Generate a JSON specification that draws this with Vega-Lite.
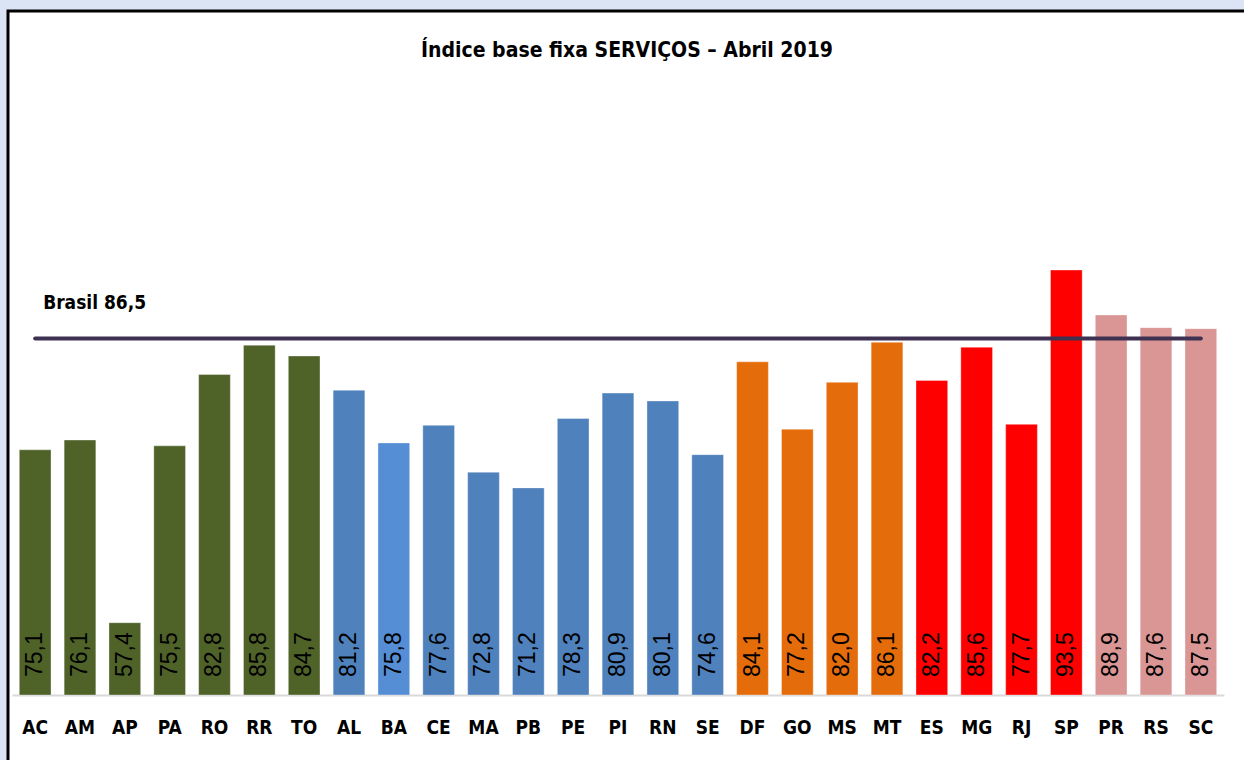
{
  "$schema": "https://vega.github.io/schema/vega-lite/v6.json",
  "width": 1236,
  "height": 749,
  "autosize": {"type": "none"},
  "padding": {"left": 8, "top": 11, "right": 0, "bottom": 0},
  "background": "#dbe4f5",
  "config": {
    "view": {"fill": "white", "stroke": "black", "strokeWidth": 3, "strokeDash": [1236, 1985, 749, 1]},
    "locale": {"number": {"decimal": ",", "thousands": ".", "grouping": [3], "currency": ["R$", ""]}}
  },
  "title": {
    "text": "Índice base fixa SERVIÇOS – Abril 2019",
    "font": "DejaVu Sans Condensed, Liberation Sans, sans-serif",
    "fontSize": 21,
    "fontWeight": "bold",
    "color": "black",
    "anchor": "middle",
    "frame": "group",
    "baseline": "alphabetic",
    "offset": 0,
    "dx": 1,
    "dy": 67
  },
  "datasets": {
    "brasil": [
      {"uf": "AC", "valor": 86.5},
      {"uf": "SC", "valor": 86.5}
    ]
  },
  "data": {
    "values": [
      {"uf": "AC", "valor": 75.1},
      {"uf": "AM", "valor": 76.1},
      {"uf": "AP", "valor": 57.4},
      {"uf": "PA", "valor": 75.5},
      {"uf": "RO", "valor": 82.8},
      {"uf": "RR", "valor": 85.8},
      {"uf": "TO", "valor": 84.7},
      {"uf": "AL", "valor": 81.2},
      {"uf": "BA", "valor": 75.8},
      {"uf": "CE", "valor": 77.6},
      {"uf": "MA", "valor": 72.8},
      {"uf": "PB", "valor": 71.2},
      {"uf": "PE", "valor": 78.3},
      {"uf": "PI", "valor": 80.9},
      {"uf": "RN", "valor": 80.1},
      {"uf": "SE", "valor": 74.6},
      {"uf": "DF", "valor": 84.1},
      {"uf": "GO", "valor": 77.2},
      {"uf": "MS", "valor": 82.0},
      {"uf": "MT", "valor": 86.1},
      {"uf": "ES", "valor": 82.2},
      {"uf": "MG", "valor": 85.6},
      {"uf": "RJ", "valor": 77.7},
      {"uf": "SP", "valor": 93.5},
      {"uf": "PR", "valor": 88.9},
      {"uf": "RS", "valor": 87.6},
      {"uf": "SC", "valor": 87.5}
    ]
  },
  "encoding": {
    "x": {
      "field": "uf",
      "type": "nominal",
      "sort": null,
      "scale": {"range": [4, 1216], "paddingInner": 0.293, "paddingOuter": 0.163},
      "axis": {
        "title": null,
        "orient": "bottom",
        "offset": -65,
        "ticks": false,
        "labelAngle": 0,
        "labelPadding": 32,
        "labelBaseline": "middle",
        "labelFont": "DejaVu Sans Condensed, Liberation Sans, sans-serif",
        "labelFontSize": 19,
        "labelFontWeight": "bold",
        "labelColor": "black",
        "domainColor": "#d9d9d9",
        "domainWidth": 2
      }
    }
  },
  "layer": [
    {
      "mark": {"type": "bar", "stroke": "white", "strokeOpacity": 0.35, "strokeWidth": 1},
      "encoding": {
        "y": {
          "field": "valor",
          "type": "quantitative",
          "scale": {"domain": [50, 100], "range": [684, 195.5], "zero": false, "nice": false},
          "axis": null
        },
        "y2": {"datum": 50},
        "color": {
          "field": "uf",
          "type": "nominal",
          "legend": null,
          "scale": {
            "domain": ["AC","AM","AP","PA","RO","RR","TO","AL","BA","CE","MA","PB","PE","PI","RN","SE","DF","GO","MS","MT","ES","MG","RJ","SP","PR","RS","SC"],
            "range": ["#4f6228","#4f6228","#4f6228","#4f6228","#4f6228","#4f6228","#4f6228","#4f81bd","#558ed5","#4f81bd","#4f81bd","#4f81bd","#4f81bd","#4f81bd","#4f81bd","#4f81bd","#e46c0a","#e46c0a","#e46c0a","#e46c0a","#ff0000","#ff0000","#ff0000","#ff0000","#d99694","#d99694","#d99694"]
          }
        }
      }
    },
    {
      "mark": {"type": "text", "angle": 270, "align": "left", "baseline": "middle", "dx": 18, "font": "Liberation Sans", "fontSize": 23, "color": "black"},
      "encoding": {
        "y": {"datum": 50, "type": "quantitative"},
        "text": {"field": "valor", "type": "quantitative", "format": ".1f"}
      }
    },
    {
      "data": {"name": "brasil"},
      "mark": {"type": "line", "color": "#3f3151", "strokeWidth": 4, "strokeCap": "round"},
      "encoding": {
        "y": {"field": "valor", "type": "quantitative"}
      }
    },
    {
      "data": {"name": "brasil"},
      "transform": [{"filter": "datum.uf == 'AC'"}],
      "mark": {"type": "text", "align": "left", "baseline": "middle", "dx": 8, "dy": -35, "font": "DejaVu Sans Condensed, Liberation Sans, sans-serif", "fontSize": 19, "fontWeight": "bold", "color": "black", "text": "Brasil 86,5"},
      "encoding": {
        "y": {"field": "valor", "type": "quantitative"}
      }
    }
  ]
}
